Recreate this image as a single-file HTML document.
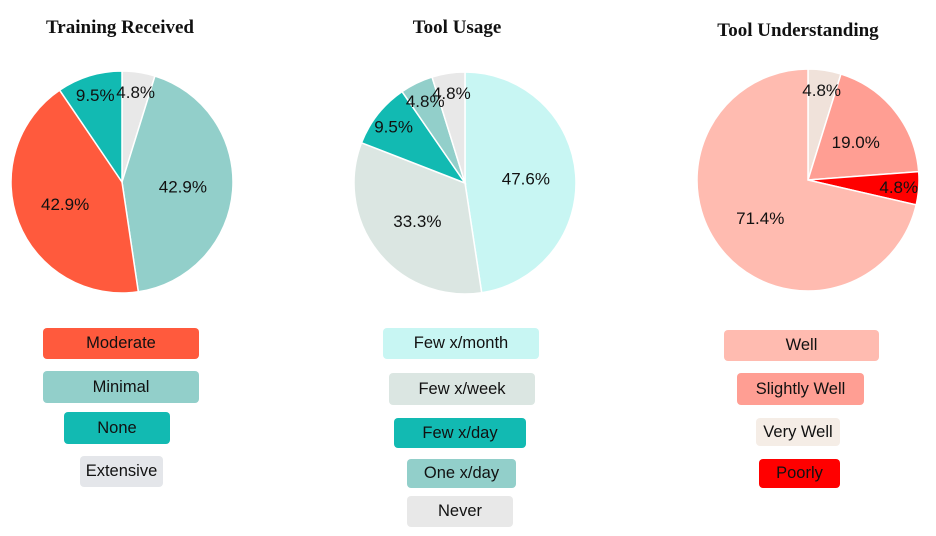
<!DOCTYPE html>
<html><head><meta charset="utf-8"><style>
body{margin:0;width:936px;height:536px;background:#fff;overflow:hidden;position:relative;font-family:"Liberation Sans",sans-serif}
.t{position:absolute;font-family:"Liberation Serif",serif;font-weight:bold;font-size:19px;transform:translateX(-50%);white-space:nowrap;color:#111}
.lg{position:absolute;border-radius:4px;font-size:16.5px;color:#111;display:flex;align-items:center;justify-content:center}
svg{position:absolute;left:0;top:0}
</style></head><body>
<div class="t" style="left:120px;top:17px">Training Received</div>
<div class="t" style="left:457px;top:17px">Tool Usage</div>
<div class="t" style="left:798px;top:20px">Tool Understanding</div>
<svg id="s" width="936" height="536"></svg>

<div class="lg" style="left:43px;top:328px;width:156px;height:31px;background:#FF5A3D">Moderate</div>
<div class="lg" style="left:43px;top:371px;width:156px;height:32px;background:#92CFCA">Minimal</div>
<div class="lg" style="left:64px;top:412px;width:106px;height:32px;background:#12BAB2">None</div>
<div class="lg" style="left:80px;top:456px;width:83px;height:31px;background:#E4E6EA">Extensive</div>

<div class="lg" style="left:383px;top:328px;width:156px;height:31px;background:#C8F6F3">Few x/month</div>
<div class="lg" style="left:389px;top:373px;width:146px;height:32px;background:#DBE6E2">Few x/week</div>
<div class="lg" style="left:394px;top:418px;width:132px;height:30px;background:#12BAB2">Few x/day</div>
<div class="lg" style="left:407px;top:459px;width:109px;height:29px;background:#92CFCA">One x/day</div>
<div class="lg" style="left:407px;top:496px;width:106px;height:31px;background:#E8E8E8">Never</div>

<div class="lg" style="left:724px;top:330px;width:155px;height:31px;background:#FFBBB0">Well</div>
<div class="lg" style="left:737px;top:373px;width:127px;height:32px;background:#FF9E93">Slightly Well</div>
<div class="lg" style="left:756px;top:418px;width:84px;height:28px;background:#F5EDE6">Very Well</div>
<div class="lg" style="left:759px;top:459px;width:81px;height:29px;background:#FF0000">Poorly</div>

<script>
const trainingCats=["Extensive","Minimal","Moderate","None"];
const trainingVals=[4.8,42.9,42.9,9.5];
const usageCats=["Few x/month","Few x/week","Few x/day","One x/day","Never"];
const usageVals=[47.6,33.3,9.5,4.8,4.8];
const underCats=["Very Well","Slightly Well","Poorly","Well"];
const underVals=[4.8,19.0,4.8,71.4];
const pies=[
 {cats:trainingCats,vals:trainingVals,cx:122,cy:182,r:111,col:["#E8E8E8","#92CFCA","#FF5A3D","#12BAB2"]},
 {cats:usageCats,vals:usageVals,cx:465,cy:183,r:111,col:["#C8F6F3","#DBE6E2","#12BAB2","#92CFCA","#E8E8E8"]},
 {cats:underCats,vals:underVals,cx:808,cy:180,r:111,col:["#F0E2DA","#FF9E93","#FF0000","#FFBBB0"]}
];
const s=document.getElementById('s');const NS="http://www.w3.org/2000/svg";
pies.forEach((p,pi)=>{
 const tot=p.vals.reduce((a,b)=>a+b,0);let acc=0;
 p.vals.forEach((v,i)=>{
  const a0=acc/tot*2*Math.PI;acc+=v;const a1=acc/tot*2*Math.PI;
  const pt=a=>[p.cx+p.r*Math.sin(a),p.cy-p.r*Math.cos(a)];
  const [x0,y0]=pt(a0),[x1,y1]=pt(a1);
  const path=document.createElementNS(NS,'path');
  path.setAttribute('d',`M${p.cx},${p.cy}L${x0},${y0}A${p.r},${p.r} 0 ${a1-a0>Math.PI?1:0} 1 ${x1},${y1}Z`);
  path.setAttribute('fill',p.col[i]);path.setAttribute('stroke','#fff');path.setAttribute('stroke-width','1.5');
  
  
  s.appendChild(path);
 });
 acc=0;
 p.vals.forEach((v,i)=>{
  const am=(acc+v/2)/tot*2*Math.PI;acc+=v;
  const f=v/tot<0.12?0.82:0.55;
  const t=document.createElementNS(NS,'text');
  t.setAttribute('x',p.cx+f*p.r*Math.sin(am));t.setAttribute('y',p.cy-f*p.r*Math.cos(am)+6);
  t.setAttribute('text-anchor','middle');t.setAttribute('font-size','17');t.setAttribute('fill','#111');
  t.setAttribute('font-family','Liberation Sans, sans-serif');
  t.textContent=v.toFixed(1)+'%';
  
  
  s.appendChild(t);
 });
});
</script>
</body></html>
